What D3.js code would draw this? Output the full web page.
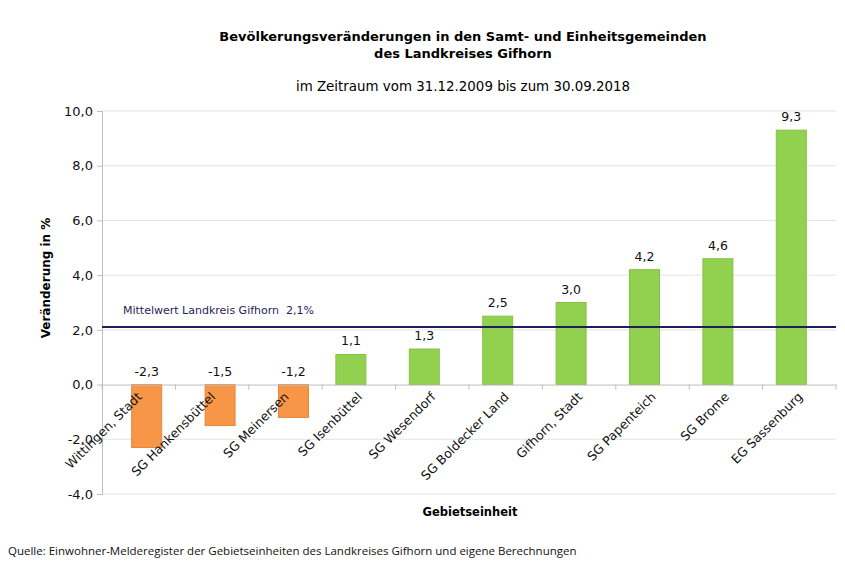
<!DOCTYPE html>
<html><head><meta charset="utf-8">
<script src="https://cdnjs.cloudflare.com/ajax/libs/d3/7.8.5/d3.min.js"></script>
<style>body{margin:0;background:#fff}svg{display:block;font-family:"DejaVu Sans",Verdana,sans-serif}</style>
</head><body><svg id="c" width="845" height="571"></svg>
<script>
const categories = ["Wittingen, Stadt","SG Hankensbüttel","SG Meinersen","SG Isenbüttel","SG Wesendorf","SG Boldecker Land","Gifhorn, Stadt","SG Papenteich","SG Brome","EG Sassenburg"];
const values = [-2.3,-1.5,-1.2,1.1,1.3,2.5,3.0,4.2,4.6,9.3];
const yTicks = [-4,-2,0,2,4,6,8,10];
const meanValue = 2.1;
const meanLabel = "Mittelwert Landkreis Gifhorn  2,1%";
const fmt = v => v.toFixed(1).replace(".", ",");

const svg = d3.select("#c");
const L = 102, R = 836, T = 111, B = 494;
const x = d3.scaleBand().domain(categories).range([L, R]).padding(0);
const y = d3.scaleLinear().domain([-4, 10]).range([B, T]);
const bw = 30;

// gridlines
svg.append("g").selectAll("line").data(yTicks.filter(d => d !== 0)).join("line")
  .attr("x1", L).attr("x2", R).attr("y1", d => y(d)).attr("y2", d => y(d))
  .attr("stroke", "#e3e3e3").attr("stroke-width", 1);

// y axis
const ya = svg.append("g").attr("transform", `translate(${L},0)`)
  .call(d3.axisLeft(y).tickValues(yTicks).tickFormat(fmt).tickSize(5).tickPadding(4));
ya.select(".domain").attr("stroke", "#bdbdbd");
ya.selectAll(".tick line").attr("stroke", "#bdbdbd");
ya.selectAll("text").attr("font-size", 13).attr("fill", "#111").attr("font-family", "DejaVu Sans, Verdana, sans-serif");

// bars
const off = d => d < 0 ? 8 : -8;
svg.append("g").selectAll("rect").data(categories).join("rect")
  .attr("x", (c, i) => x(c) + x.bandwidth() / 2 + off(values[i]) - bw / 2)
  .attr("width", bw)
  .attr("y", (c, i) => y(Math.max(0, values[i])))
  .attr("height", (c, i) => Math.abs(y(values[i]) - y(0)))
  .attr("fill", (c, i) => values[i] < 0 ? "#f79646" : "#92d050")
  .attr("stroke", (c, i) => values[i] < 0 ? "#e8873a" : "#86c244").attr("stroke-width", 1);

// zero axis
const xa = svg.append("g").attr("transform", `translate(0,${y(0)})`)
  .call(d3.axisBottom(x).tickSize(0).tickFormat(""));
xa.select(".domain").attr("stroke", "#bdbdbd");
svg.append("g").selectAll("line").data(d3.range(categories.length + 1)).join("line")
  .attr("x1", i => L + i * x.bandwidth()).attr("x2", i => L + i * x.bandwidth())
  .attr("y1", y(0)).attr("y2", y(0) + 5).attr("stroke", "#bdbdbd");

// category labels
svg.append("g").selectAll("text").data(categories).join("text")
  .attr("transform", c => `translate(${x(c) + x.bandwidth() / 2 + 4},${y(0) + 13}) rotate(-45)`)
  .attr("text-anchor", "end").attr("font-size", 12.5).attr("fill", "#111").text(c => c);

// value labels
svg.append("g").selectAll("text").data(categories).join("text")
  .attr("x", (c, i) => x(c) + x.bandwidth() / 2 + off(values[i]))
  .attr("y", (c, i) => y(Math.max(0, values[i])) - 9)
  .attr("text-anchor", "middle").attr("font-size", 12.5).attr("fill", "#111")
  .text((c, i) => fmt(values[i]));

// mean line
svg.append("line").attr("x1", L).attr("x2", R).attr("y1", y(meanValue)).attr("y2", y(meanValue))
  .attr("stroke", "#1f1d5c").attr("stroke-width", 2);
svg.append("text").attr("x", 123).attr("y", y(meanValue) - 13).attr("font-size", 11)
  .attr("fill", "#1f1d5c").attr("xml:space", "preserve").text(meanLabel);

// titles
svg.append("text").attr("x", 463).attr("y", 41).attr("text-anchor", "middle")
  .attr("font-size", 13).attr("font-weight", "bold").text("Bevölkerungsveränderungen in den Samt- und Einheitsgemeinden");
svg.append("text").attr("x", 463).attr("y", 58).attr("text-anchor", "middle")
  .attr("font-size", 13).attr("font-weight", "bold").text("des Landkreises Gifhorn");
svg.append("text").attr("x", 463).attr("y", 91).attr("text-anchor", "middle")
  .attr("font-size", 13.4).text("im Zeitraum vom 31.12.2009 bis zum 30.09.2018");

// axis titles
svg.append("text").attr("transform", `translate(50,278) rotate(-90)`)
  .attr("text-anchor", "middle").attr("font-size", 12).attr("font-weight", "bold").text("Veränderung in %");
svg.append("text").attr("x", 470).attr("y", 516).attr("text-anchor", "middle")
  .attr("font-size", 11.5).attr("font-weight", "bold").text("Gebietseinheit");

// source
svg.append("text").attr("x", 8).attr("y", 555).attr("font-size", 11.5)
  .attr("font-family", "Open Sans, sans-serif").attr("fill", "#111")
  .text("Quelle: Einwohner-Melderegister der Gebietseinheiten des Landkreises Gifhorn und eigene Berechnungen");
</script></body></html>
